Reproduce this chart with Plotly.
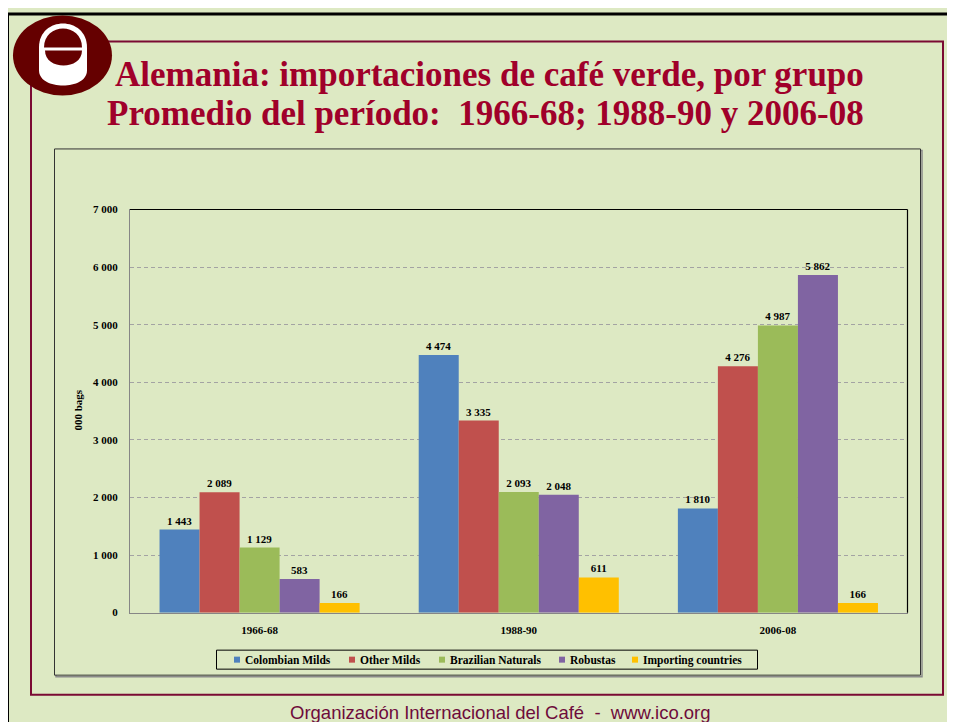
import plotly.graph_objects as go

W, H = 955, 722
OFF_X = 8       # horizontal page offset of the figure
OFF_Y = 13.6    # vertical page offset of the figure
SY = 0.983      # measured vertical scale of the page

categories = ["1966-68", "1988-90", "2006-08"]
series_names = ["Colombian Milds", "Other Milds", "Brazilian Naturals", "Robustas", "Importing countries"]
colombian_milds = [1443, 4474, 1810]
other_milds = [2089, 3335, 4276]
brazilian_naturals = [1129, 2093, 4987]
robustas = [583, 2048, 5862]
importing_countries = [166, 611, 166]
series_values = [colombian_milds, other_milds, brazilian_naturals, robustas, importing_countries]
y_ticks = [0, 1000, 2000, 3000, 4000, 5000, 6000, 7000]

title_line1 = "Alemania: importaciones de café verde, por grupo"
title_line2 = "Promedio del período:\u00a0 1966-68; 1988-90 y 2006-08"
footer_text = "Organización Internacional del Café\u00a0 -\u00a0 www.ico.org"
y_title = "000 bags"

colors = ["#4F81BD", "#C0504D", "#9BBB59", "#8064A2", "#FFC000"]
BG = "#DDE9C3"
SERIF = "Liberation Serif"
LOGO = "#650000"


def px(x):
    return (x - OFF_X) / W


def py(y):
    return 1 - (y - OFF_Y) / (H * SY)


fig = go.Figure()
for name, vals, col in zip(series_names, series_values, colors):
    fig.add_trace(go.Bar(
        x=categories, y=vals, name=name, marker=dict(color=col, line=dict(width=0)),
        texttemplate="%{y:,d}", textposition="outside", cliponaxis=False,
        textfont=dict(family=SERIF, size=11, color="black", weight="bold"),
        showlegend=False,
    ))

shapes = []
# outer page frame
shapes.append(dict(type="rect", xref="paper", yref="paper", x0=px(7.5), x1=px(W + 20), y0=1.0, y1=py(H + 40),
                   line=dict(color="black", width=3), layer="below"))
# maroon frame
shapes.append(dict(type="rect", xref="paper", yref="paper", x0=px(31), x1=px(943), y0=py(41), y1=py(694),
                   line=dict(color="#7A0A33", width=2), layer="below"))
# chart box shadow + box
shapes.append(dict(type="rect", xref="paper", yref="paper", x0=px(56), x1=px(922), y0=py(150), y1=py(676),
                   line=dict(color="#8A8A8A", width=1.5), layer="below"))
shapes.append(dict(type="rect", xref="paper", yref="paper", x0=px(54.5), x1=px(920.5), y0=py(148.5), y1=py(674.5),
                   fillcolor=BG, line=dict(color="#333333", width=1), layer="below"))
# plot area top and right borders (black)
shapes.append(dict(type="line", xref="paper", yref="paper", x0=px(130), x1=px(907.5), y0=py(209), y1=py(209),
                   line=dict(color="black", width=1.2), layer="above"))
shapes.append(dict(type="line", xref="paper", yref="paper", x0=px(907.5), x1=px(907.5), y0=py(209), y1=py(612),
                   line=dict(color="black", width=1.2), layer="above"))

# logo
shapes.append(dict(type="circle", xref="paper", yref="paper", x0=px(13), x1=px(112), y0=py(15), y1=py(95),
                   fillcolor=LOGO, line=dict(width=0), layer="above"))
cup = (f"M {px(39)},{py(47)} "
       f"C {px(39)},{py(15)} {px(87)},{py(15)} {px(87)},{py(47)} "
       f"L {px(87)},{py(70)} "
       f"C {px(87)},{py(90)} {px(39)},{py(90)} {px(39)},{py(70)} Z")
shapes.append(dict(type="path", xref="paper", yref="paper", path=cup, fillcolor="white",
                   line=dict(width=0), layer="above"))
upper = (f"M {px(44)},{py(47)} "
         f"C {px(44)},{py(21.7)} {px(82)},{py(21.7)} {px(82)},{py(47)} Z")
shapes.append(dict(type="path", xref="paper", yref="paper", path=upper, fillcolor=LOGO,
                   line=dict(width=0), layer="above"))
lower = (f"M {px(45)},{py(50)} L {px(82)},{py(50)} "
         f"C {px(82)},{py(70)} {px(45)},{py(70)} {px(45)},{py(50)} Z")
shapes.append(dict(type="path", xref="paper", yref="paper", path=lower, fillcolor=LOGO,
                   line=dict(width=0), layer="above"))

# manual legend
shapes.append(dict(type="rect", xref="paper", yref="paper", x0=px(216.5), x1=px(757.5), y0=py(649.5), y1=py(668.5),
                   fillcolor=BG, line=dict(color="black", width=1), layer="above"))
legend_text_x = [244, 359, 449, 569, 642]
annotations = []
for name, col, tx in zip(series_names, colors, legend_text_x):
    shapes.append(dict(type="rect", xref="paper", yref="paper", x0=px(tx - 10), x1=px(tx - 4),
                       y0=py(656), y1=py(662), fillcolor=col, line=dict(width=0), layer="above"))
    annotations.append(dict(text=name, xref="paper", yref="paper", x=px(tx - 1), y=py(659.5),
                            xanchor="left", yanchor="middle", showarrow=False,
                            font=dict(family=SERIF, size=11.5, color="black", weight="bold")))

annotations += [
    dict(text=title_line1, xref="paper", yref="paper", x=px(489), y=py(74), xanchor="center", yanchor="middle",
         showarrow=False, font=dict(family=SERIF, size=35, color="#A0002A", weight="bold")),
    dict(text=title_line2, xref="paper", yref="paper", x=px(485), y=py(113), xanchor="center", yanchor="middle",
         showarrow=False, font=dict(family=SERIF, size=35, color="#A0002A", weight="bold")),
    dict(text=footer_text, xref="paper", yref="paper", x=px(500), y=py(712), xanchor="center", yanchor="middle",
         showarrow=False, font=dict(family="Liberation Sans", size=18.5, color="#6E0B3B")),
    dict(text=y_title, xref="paper", yref="paper", x=px(78), y=py(410), xanchor="center", yanchor="middle",
         textangle=-90, showarrow=False, font=dict(family=SERIF, size=11, color="black", weight="bold")),
]

fig.update_layout(
    width=W, height=H, margin=dict(l=0, r=0, t=0, b=0),
    paper_bgcolor=BG, plot_bgcolor=BG,
    barmode="group", bargap=0.228, bargroupgap=0,
    separators=". ",
    shapes=shapes, annotations=annotations,
    xaxis=dict(type="category", domain=[px(130), px(907.5)], showline=True, linecolor="#868686", linewidth=1.2,
               ticks="", ticklabelstandoff=7, showgrid=False,
               tickfont=dict(family=SERIF, size=11, color="black", weight="bold")),
    yaxis=dict(domain=[py(612), py(209)], range=[0, 7000], tickvals=y_ticks, tickformat=",d",
               showline=True, linecolor="#868686", linewidth=1.2, ticks="", ticklabelstandoff=9,
               showgrid=True, gridcolor="#A3A3A3", griddash="4px,3px", gridwidth=1, zeroline=False,
               tickfont=dict(family=SERIF, size=11, color="black", weight="bold")),
    showlegend=False,
)

fig.write_html("out.html")
